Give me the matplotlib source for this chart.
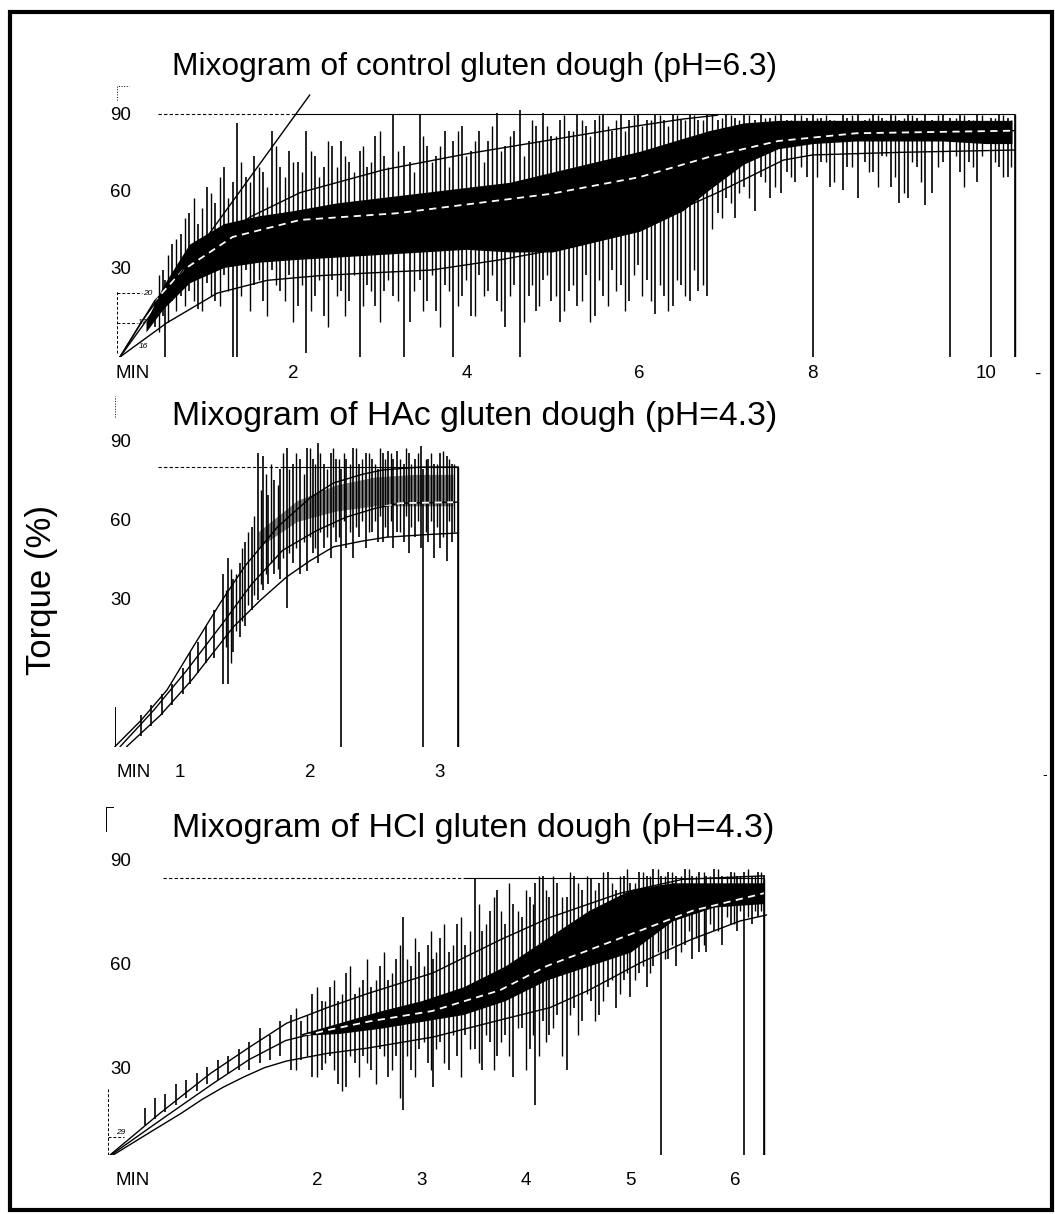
import numpy as np
import matplotlib.pyplot as plt
from matplotlib import transforms
from matplotlib.patches import Rectangle

plt.rcParams['font.family'] = ['Liberation Sans', 'DejaVu Sans']

# ---------------- data ----------------
titles = ["Mixogram of control gluten dough (pH=6.3)",
          "Mixogram of HAc gluten dough (pH=4.3)",
          "Mixogram of HCl gluten dough (pH=4.3)"]
torque_ticks = [90, 60, 30]

# control, pH 6.3
c_xticks = [0.15, 2, 4, 6, 8, 10, 10.59]
c_xlabels = ["MIN", "2", "4", "6", "8", "10", "-"]
c_top = 90.3
c_upper_t = [0, 0.25, 0.54, 0.92, 1.5, 2.08, 3.04, 4.0, 4.97, 5.8, 6.5, 6.9]
c_upper_v = [-3.7, 10, 23.4, 36.6, 50.5, 60, 68.8, 75, 80.4, 85, 88.5, 90]
c_mid_t = [0, 0.4, 0.73, 1.3, 2.08, 3.2, 4.97, 6.0, 6.8, 7.6, 8.5, 10.33]
c_mid_v = [-3.7, 18, 30, 42.8, 49.4, 52, 59.5, 66, 73.8, 80, 83, 84]
c_lower_t = [0, 0.54, 1.12, 1.7, 2.3, 2.85, 3.6, 4.4, 4.97, 5.5, 6.1, 6.9, 7.66, 8.0, 9.0, 10.33]
c_lower_v = [-3.7, 9.5, 21, 26, 27.8, 28.8, 30, 34, 37.5, 42, 48, 60, 72.6, 74.6, 75.6, 76.5]
c_tan_t = [0, 2.19]
c_tan_v = [-3.7, 97.8]
c_core_t = [0.3, 0.5, 0.8, 1.2, 1.6, 2.0, 2.5, 3.0, 3.5, 4.0, 4.5, 5.0, 5.5, 6.0,
            6.5, 6.8, 7.2, 7.6, 8.0, 8.5, 9.0, 9.5, 10.0, 10.3]
c_core_lo = [6, 15, 25, 31, 33, 34, 35, 36, 37, 38, 37, 37, 41, 45,
             53, 61, 71, 77, 79, 80, 80, 80, 79, 79]
c_core_hi = [10, 24, 40, 48, 51, 53, 56, 58, 60, 62, 64, 68, 72, 76,
             81, 84, 87, 88, 88, 88, 88, 88, 88, 88]
c_spk_t = [0.40, 0.50, 0.52, 0.60, 0.70, 0.80, 0.90, 1.00, 1.10, 1.20, 1.30, 1.35,
           1.45, 1.55, 1.65, 1.75, 1.85, 1.95, 2.05, 2.15, 2.25, 2.35, 2.45, 2.55,
           2.65, 2.77, 2.85, 2.95, 3.05, 3.15, 3.28, 3.35, 3.46, 3.55, 3.65, 3.75,
           3.85, 3.95, 4.05, 4.15, 4.25, 4.35, 4.45, 4.55, 4.62, 4.72, 4.80, 4.88,
           4.98, 5.08, 5.18, 5.28, 5.38, 5.48, 5.58, 5.68, 5.78, 5.88, 5.98, 6.08,
           6.18, 6.28, 6.38, 6.48, 6.58, 6.68, 6.78, 6.90, 7.00, 7.10, 7.20, 7.33,
           7.40, 7.50, 7.63, 7.70, 7.80, 7.93, 8.00, 8.10, 8.20, 8.35, 8.40, 8.52,
           8.60, 8.70, 8.80, 8.90, 9.00, 9.10, 9.20, 9.30, 9.38, 9.50, 9.58, 9.70,
           9.80, 9.90, 10.06, 10.15, 10.25, 10.33]
c_spk_hi = [18, 30, 26, 40, 44, 52, 48, 62, 56, 70, 64, 87,
            66, 74, 68, 84, 70, 76, 72, 84, 74, 70, 78, 80,
            72, 76, 70, 82, 74, 90, 78, 72, 90, 78, 74, 84,
            80, 86, 76, 84, 80, 91, 78, 84, 92, 80, 86, 91,
            82, 88, 84, 90, 86, 88, 90, 84, 90, 88, 90, 88,
            90, 88, 90, 88, 90, 88, 90, 88, 90, 89, 90, 88,
            90, 89, 90, 88, 90, 89, 90, 89, 88, 90, 89, 90,
            88, 90, 89, 90, 88, 90, 89, 90, 88, 90, 89, 90,
            88, 90, 89, 90, 89, 90]
c_spk_lo = [8, 12, -3.7, 18, 20, 22, 15, 25, 18, 28, -3.7, -3.7,
            30, 24, 18, 30, 22, 28, 16, -2, 20, 12, 26, 22,
            18, -3.7, 24, 16, 22, 20, -3.7, 10, 26, 18, 14, 24,
            -3.7, 20, 12, 28, 22, 18, 8, 24, -3.7, 20, 14, 26,
            18, 10, 22, 16, 28, 12, 20, 30, 24, 18, 32, 26,
            13, 20, 16, 24, 18, 22, 20, 52, 58, 50, 62, 53,
            66, 58, 60, 68, 64, 66, -3.7, 72, 62, 61, 70, 58,
            72, 68, 74, 62, 56, 58, 70, 55, 60, 72, -3.7, 68,
            72, 64, -3.7, 70, 66, -3.7]
# shorter in-between strokes
c_spk2_t = [0.45, 0.55, 0.65, 0.75, 0.85, 0.95, 1.05, 1.15, 1.25, 1.40, 1.50, 1.60,
            1.70, 1.80, 1.90, 2.00, 2.10, 2.20, 2.30, 2.40, 2.50, 2.60, 2.70, 2.81,
            2.90, 3.00, 3.10, 3.21, 3.40, 3.50, 3.60, 3.70, 3.80, 3.90, 4.00, 4.10,
            4.20, 4.30, 4.40, 4.50, 4.67, 4.76, 4.84, 4.93, 5.03, 5.13, 5.23, 5.33,
            5.43, 5.53, 5.63, 5.73, 5.83, 5.93, 6.03, 6.13, 6.23, 6.33, 6.43, 6.53,
            6.63, 6.73, 6.84, 6.95, 7.05, 7.15, 7.26, 7.45, 7.56, 7.75, 7.86, 8.05,
            8.15, 8.25, 8.45, 8.65, 8.75, 8.85, 8.95, 9.05, 9.15, 9.25, 9.45, 9.65,
            9.75, 9.85, 9.95, 10.10, 10.20, 10.29]
c_spk2_hi = [28, 36, 42, 50, 58, 54, 60, 66, 58, 72, 64, 70,
             62, 78, 66, 72, 68, 76, 66, 80, 70, 74, 68, 78,
             72, 84, 70, 76, 68, 82, 72, 78, 70, 84, 74, 80,
             72, 86, 76, 82, 74, 88, 80, 86, 82, 90, 84, 88,
             82, 90, 86, 88, 84, 90, 86, 88, 90, 86, 90, 88,
             90, 88, 90, 89, 90, 88, 90, 89, 90, 88, 90, 89,
             90, 88, 90, 89, 90, 88, 90, 89, 90, 88, 90, 89,
             90, 88, 90, 89, 90, 88]
c_spk2_lo = [6, 10, 14, 16, 18, 14, 20, 16, 22, 20, 14, 26,
             12, 24, 18, 10, 24, 14, 26, 8, 20, 12, 28, 16,
             22, 10, 26, 18, 22, 14, 28, 8, 22, 16, 26, 12,
             20, 28, 14, 20, 10, 24, 16, 28, 20, 14, 24, 18,
             10, 26, 16, 22, 14, 28, 20, 18, 24, 14, 26, 20,
             30, 24, 46, 50, 56, 60, 58, 64, 62, 66, 70, 66,
             72, 64, 70, 68, 62, 74, 66, 60, 72, 64, 70, 74,
             62, 70, 74, 72, 66, 70]

# HAc, pH 4.3
a_xticks = [0.64, 1, 2, 3]
a_xlabels = ["MIN", "1", "2", "3"]
a_top = 80.8
a_upper_t = [0.5, 0.7, 0.9, 1.1, 1.31, 1.5, 1.75, 2.0, 2.18, 2.4, 2.56, 2.85, 3.14]
a_upper_v = [-26, -16, -4.4, 12, 28.9, 43, 57.9, 69, 74.7, 78, 79.7, 80.8, 80.8]
a_mid_t = [0.54, 0.8, 1.05, 1.33, 1.55, 1.79, 2.05, 2.28, 2.5, 2.69, 3.14]
a_mid_v = [-26, -12, 3, 21.2, 36, 49, 56.5, 61.7, 65, 67, 67.4]
a_lower_t = [0.59, 0.85, 1.1, 1.41, 1.62, 1.82, 2.0, 2.18, 2.4, 2.59, 2.9, 3.14]
a_lower_v = [-26, -14, 0, 19.7, 30, 38.8, 45, 50.3, 52.5, 54, 55, 55.6]
a_core_t = [1.6, 1.9, 2.2, 2.5, 2.8, 3.1]
a_core_lo = [50, 60, 64, 66, 66, 66]
a_core_hi = [56, 68, 74, 77, 78, 78]
a_spk_t = [0.70, 0.78, 0.86, 0.94, 1.02, 1.08, 1.14, 1.20, 1.26, 1.33, 1.37, 1.41,
           1.46, 1.50, 1.55, 1.60, 1.64, 1.68, 1.72, 1.77, 1.82, 1.87, 1.92, 1.98,
           2.02, 2.06, 2.11, 2.16, 2.20, 2.24, 2.28, 2.33, 2.38, 2.43, 2.48, 2.52,
           2.56, 2.60, 2.64, 2.67, 2.72, 2.76, 2.81, 2.85, 2.87, 2.91, 2.95, 3.00,
           3.05, 3.09, 3.14]
a_spk_hi = [-14, -10, -6, -2, 4, 10, 14, 20, 26, 40, 46, 38,
            44, 52, 58, 86, 85, 70, 76, 80, 88, 82, 84, 88,
            84, 90, 82, 86, 84, 80, 84, 88, 82, 86, 84, 80,
            86, 87, 84, 87, 82, 86, 84, 89, 80, 84, 82, 86,
            85, 82, 81]
a_spk_lo = [-22, -18, -14, -10, -6, -2, 2, 6, 8, -2, -2, 10,
            16, 20, 26, 30, 34, 36, 40, 38, 27, 44, 40, 41,
            48, 44, 50, 46, 52, -26, 50, 46, 54, 50, 56, 52,
            52, 54, 50, 56, 52, 48, 54, 50, -26, 52, 46, 50,
            45, 52, -26]
a_spk2_t = [1.35, 1.39, 1.43, 1.48, 1.52, 1.57, 1.62, 1.66, 1.70, 1.75, 1.79, 1.84,
            1.89, 1.95, 2.00, 2.04, 2.08, 2.13, 2.18, 2.22, 2.26, 2.31, 2.35, 2.40,
            2.45, 2.50, 2.54, 2.58, 2.62, 2.69, 2.74, 2.78, 2.83, 2.89, 2.93, 2.98,
            3.02, 3.07, 3.11]
a_spk2_hi = [34, 42, 40, 50, 56, 62, 72, 78, 82, 74, 86, 80,
             86, 78, 88, 82, 86, 80, 88, 84, 86, 82, 88, 84,
             86, 82, 88, 84, 86, 84, 88, 82, 86, 84, 86, 82,
             87, 84, 82]
a_spk2_lo = [12, 6, 18, 22, 28, 32, 36, 40, 44, 42, 46, 48,
             50, 52, 54, 50, 56, 54, 58, 54, 60, 56, 58, 60,
             56, 60, 62, 58, 60, 56, 62, 58, 60, 56, 60, 58,
             54, 60, 56]

# HCl, pH 4.3
h_xticks = [0.24, 2, 3, 4, 5, 6]
h_xlabels = ["MIN", "2", "3", "4", "5", "6"]
h_top = 85.5
h_upper_t = [0.02, 0.5, 0.98, 1.35, 1.71, 2.1, 2.48, 3.11, 3.75, 4.23, 4.9, 5.5, 6.28]
h_upper_v = [5.5, 17.6, 29, 36.5, 43.5, 48, 52, 58, 67.5, 74, 81, 85, 86]
h_mid_t = [0.03, 0.5, 1.0, 1.35, 1.7, 2.1, 2.5, 3.1, 3.75, 4.2, 4.9, 5.6, 6.28]
h_mid_v = [5.5, 15.5, 26, 33, 38.5, 41.5, 44, 47, 53, 60, 68, 76, 81]
h_lower_t = [0.05, 0.4, 0.7, 0.9, 1.1, 1.3, 1.5, 1.71, 2.1, 2.48, 3.11, 3.75, 4.23,
             4.6, 5.1, 5.57, 6.05, 6.3]
h_lower_v = [5.5, 12, 17.5, 21.5, 25, 28, 30.7, 32.6, 34.8, 36.3, 39.5, 44.4, 48,
             53, 61, 67.5, 73, 74.7]
h_core_t = [1.85, 2.2, 2.6, 3.0, 3.4, 3.8, 4.2, 4.6, 5.0, 5.4, 5.8, 6.28]
h_core_lo = [40, 40.5, 42, 44, 46, 50, 56, 60, 64, 73, 77, 78]
h_core_hi = [40.5, 43.5, 47, 50, 54, 60, 68, 76, 82, 84, 84, 84]
h_spk_t = [0.35, 0.45, 0.55, 0.65, 0.75, 0.85, 0.95, 1.05, 1.15, 1.25, 1.35, 1.45,
           1.55, 1.65, 1.75, 1.85, 1.95, 2.05, 2.12, 2.20, 2.28, 2.36, 2.44, 2.52,
           2.60, 2.68, 2.76, 2.82, 2.90, 2.98, 3.06, 3.11, 3.18, 3.26, 3.34, 3.42,
           3.51, 3.58, 3.66, 3.72, 3.80, 3.88, 3.96, 4.04, 4.09, 4.16, 4.22, 4.30,
           4.39, 4.46, 4.54, 4.62, 4.70, 4.78, 4.86, 4.94, 5.00, 5.08, 5.16, 5.22,
           5.29, 5.36, 5.44, 5.52, 5.59, 5.66, 5.72, 5.80, 5.88, 5.96, 6.02, 6.09,
           6.16, 6.22, 6.28]
h_spk_hi = [19, 22, 23, 26, 27, 29, 31, 33, 34, 36, 38, 42,
            40, 44, 46, 44, 52, 50, 54, 50, 58, 52, 56, 54,
            60, 56, 62, 74, 60, 64, 66, 62, 68, 64, 72, 66,
            85, 70, 76, 82, 72, 78, 74, 80, 84, 86, 80, 84,
            80, 86, 82, 85, 84, 87, 82, 86, 84, 87, 86, 88,
            86, 87, 86, 88, 86, 87, 86, 88, 86, 87, 86, 87,
            86, 87, 86]
h_spk_lo = [14, 16, 18, 20, 22, 24, 26, 27, 29, 30, 30, 32,
            33, 34, 30, 33, 28, 30, 34, 26, 25, 32, 34, 30,
            36, 28, 34, 18.5, 30, 36, 32, 25, 38, 30, 34, 40,
            36, 30, 38, 34, 40, 28, 42, 36, 20, 44, 40, 46,
            30, 48, 44, 50, 46, 54, 48, 56, 51, 58, 54, 60,
            5.5, 62, 60, 66, 62, 64, 64, 70, 66, 72, 70, 5.5,
            72, 74, 5.5]
h_spk2_t = [1.80, 1.90, 2.00, 2.08, 2.16, 2.24, 2.32, 2.40, 2.48, 2.56, 2.64, 2.72,
            2.79, 2.86, 2.94, 3.02, 3.09, 3.14, 3.22, 3.30, 3.38, 3.46, 3.55, 3.62,
            3.69, 3.76, 3.84, 3.92, 4.00, 4.07, 4.12, 4.19, 4.26, 4.34, 4.42, 4.50,
            4.58, 4.66, 4.74, 4.82, 4.90, 4.97, 5.04, 5.12, 5.19, 5.26, 5.33, 5.40,
            5.48, 5.56, 5.63, 5.70, 5.76, 5.84, 5.92, 5.99, 6.05, 6.12, 6.19, 6.25]
h_spk2_hi = [48, 46, 54, 50, 56, 52, 60, 54, 62, 56, 64, 58,
             66, 62, 68, 60, 70, 64, 72, 66, 74, 70, 78, 72,
             80, 76, 84, 76, 82, 78, 86, 82, 86, 80, 87, 84,
             86, 82, 87, 84, 86, 88, 84, 87, 86, 88, 86, 87,
             86, 88, 86, 87, 86, 88, 86, 87, 86, 88, 86, 87]
h_spk2_lo = [30, 34, 28, 32, 30, 24, 34, 28, 32, 26, 34, 30,
             22, 34, 28, 38, 30, 36, 32, 40, 28, 36, 32, 40,
             30, 38, 34, 42, 30, 40, 34, 38, 42, 34, 46, 40,
             52, 44, 50, 56, 52, 58, 56, 60, 58, 64, 62, 66,
             64, 70, 68, 66, 72, 70, 74, 72, 76, 74, 76, 76]

# ---------------- figure ----------------
W, H = 1055, 1214
fig = plt.figure(figsize=(W / 100, H / 100), dpi=100)


def panel(top, bottom, x0, kx, y0, ky, v0, ticks, labels, pad):
    # pixel box of the axes, and pixel position of t=0 / v=v0
    ax = fig.add_axes([100 / W, 1 - bottom / H, 945 / W, (bottom - top) / H])
    ax.set_xlim((100 - x0) / kx, (1045 - x0) / kx)
    ax.set_ylim(v0 + (y0 - bottom) / ky, v0 + (y0 - top) / ky)
    ax.patch.set_alpha(0)
    for s in ax.spines.values():
        s.set_visible(False)
    ax.set_yticks([])
    ax.set_xticks(ticks, labels)
    ax.tick_params(axis="x", length=0, labelsize=13.5, pad=pad)
    tr = transforms.blended_transform_factory(fig.transFigure, ax.transData)
    for v in torque_ticks:
        ax.text(110 / W, v, str(v), transform=tr, ha="left", va="center", fontsize=13.5)
    return ax


def trace(ax, core, spikes, spikes2, upper, mid, lower, top, t_end, core_color="black"):
    band = ax.fill_between(core[0], core[1], core[2], color=core_color, lw=0)
    ax.vlines(spikes[0], spikes[2], spikes[1], color="black", lw=1.2)
    ax.vlines(spikes2[0], spikes2[2], spikes2[1], color="black", lw=1.0)
    ax.plot(upper[0], upper[1], color="black", lw=1)
    ax.plot(lower[0], lower[1], color="black", lw=1)
    ax.plot(mid[0], mid[1], color="black", lw=1)
    dash = ax.plot(mid[0], mid[1], color="white", lw=1.3, ls=(0, (4, 3)))[0]
    dash.set_clip_path(band.get_paths()[0], transform=ax.transData)
    ax.vlines([t_end], ax.get_ylim()[0], top, color="black", lw=1)
    return band


ax1 = panel(40, 357, 120, 86.6, 270, 2.58, 30, c_xticks, c_xlabels, 6)
trace(ax1, (c_core_t, c_core_lo, c_core_hi), (c_spk_t, c_spk_hi, c_spk_lo),
      (c_spk2_t, c_spk2_hi, c_spk2_lo),
      (c_upper_t, c_upper_v), (c_mid_t, c_mid_v), (c_lower_t, c_lower_v), c_top, 10.33)
ax1.plot(c_tan_t, c_tan_v, color="black", lw=1)
ax1.hlines(c_top, 0.44, 2.0, color="black", lw=0.8, ls=(0, (3, 2)))
ax1.hlines(c_top, 2.0, 10.33, color="black", lw=0.8)
ax1.plot([-0.035, -0.035, 0.1], [96, 101.5, 101.5], color="black", lw=0.7, ls=":", clip_on=False)
ax1.plot([-0.035, -0.035], [-2, 22], color="black", lw=0.7, ls=(0, (3, 2)))
ax1.hlines([21, 9.5], -0.035, [0.25, 0.2], color="black", lw=0.7, ls=(0, (3, 2)))
ax1.text(0.27, 21, "20", fontsize=6, style="italic", va="center")
ax1.text(0.2, 9.5, "17", fontsize=6, style="italic", va="center")
ax1.text(0.22, 0.5, "16", fontsize=6, style="italic", va="center")

ax2 = panel(395, 747, 50, 130, 600, 2.617, 30, a_xticks, a_xlabels, 12)
trace(ax2, (a_core_t, a_core_lo, a_core_hi), (a_spk_t, a_spk_hi, a_spk_lo),
      (a_spk2_t, a_spk2_hi, a_spk2_lo),
      (a_upper_t, a_upper_v), (a_mid_t, a_mid_v), (a_lower_t, a_lower_v), a_top, 3.14,
      core_color="0.5")
ax2.hlines(a_top, 0.83, 1.77, color="black", lw=0.8, ls=(0, (3, 2)))
ax2.hlines(a_top, 1.77, 3.14, color="black", lw=0.8)
ax2.plot([0.5, 0.5], [-26, -11], color="black", lw=0.7)
ax2.plot([0.5, 0.5], [100, 108], color="black", lw=0.7, ls=":", clip_on=False)

ax3 = panel(800, 1155, 108, 104.5, 1070, 3.467, 30, h_xticks, h_xlabels, 12)
trace(ax3, (h_core_t, h_core_lo, h_core_hi), (h_spk_t, h_spk_hi, h_spk_lo),
      (h_spk2_t, h_spk2_hi, h_spk2_lo),
      (h_upper_t, h_upper_v), (h_mid_t, h_mid_v), (h_lower_t, h_lower_v), h_top, 6.28)
ax3.hlines(h_top, 0.53, 3.4, color="black", lw=0.8, ls=(0, (3, 2)))
ax3.hlines(h_top, 3.4, 6.28, color="black", lw=0.8)
ax3.plot([0.0, 0.0], [5.5, 24.8], color="black", lw=0.7, ls=(0, (3, 2)))
ax3.hlines(10.7, 0.0, 0.15, color="black", lw=0.7, ls=(0, (3, 2)))
ax3.text(0.08, 12, "29", fontsize=6, style="italic", va="center")
ax3.plot([-0.02, -0.02, 0.05], [99, 106, 106], color="black", lw=0.7, clip_on=False)

for title, ypx, fs in zip(titles, [67, 417, 828], [22.9, 24.3, 24.5]):
    fig.text(172 / W, 1 - ypx / H, title, ha="left", va="center", fontsize=fs)

fig.text(42 / W, 1 - 590 / H, "Torque (%)", rotation=90, ha="center", va="center", fontsize=25)
fig.text(1045 / W, 1 - 775 / H, "-", ha="center", va="center", fontsize=10)
fig.add_artist(Rectangle((10 / W, 1 - 1210 / H), 1042 / W, 1198 / H,
                         transform=fig.transFigure, fill=False, lw=3, ec="black"))

fig.savefig("out.png", dpi=100)
